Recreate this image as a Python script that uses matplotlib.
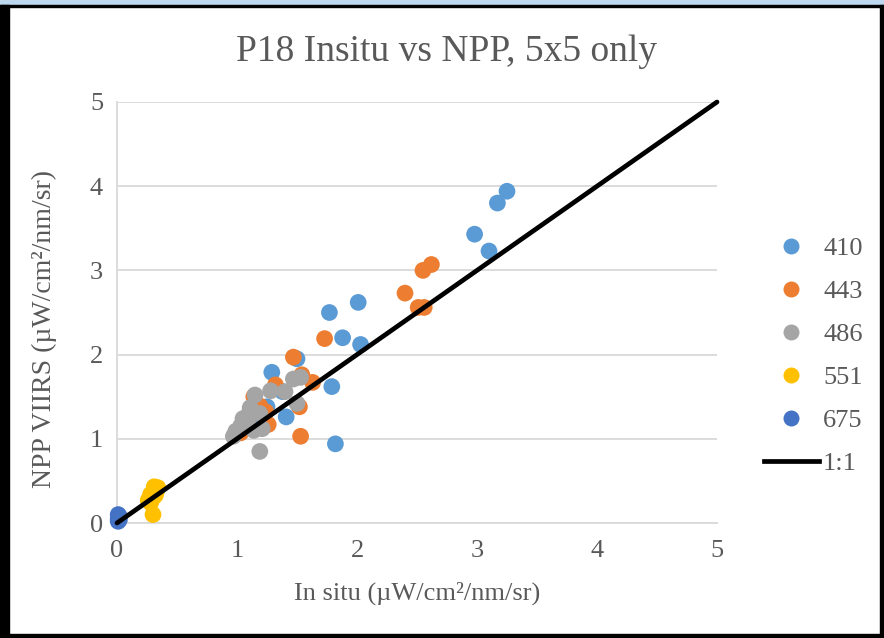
import matplotlib.pyplot as plt
from matplotlib.patches import Rectangle
from matplotlib.lines import Line2D

# in situ vs NPP VIIRS radiance, one series per band (nm)
x_410 = [3.25, 3.17, 2.98, 3.10, 1.77, 2.01, 1.88, 2.03, 1.79, 1.82, 1.29, 1.50, 1.41, 1.38, 1.25, 1.15]
y_410 = [3.94, 3.80, 3.43, 3.23, 2.50, 2.62, 2.20, 2.12, 1.62, 0.94, 1.79, 1.95, 1.26, 1.56, 1.38, 1.20]

x_443 = [2.62, 2.55, 2.40, 2.51, 2.56, 1.73, 1.47, 1.63, 1.53, 1.52, 1.54, 1.32, 1.26, 1.19, 1.14, 1.03, 1.24]
y_443 = [3.07, 3.00, 2.73, 2.56, 2.56, 2.19, 1.97, 1.67, 1.03, 1.38, 1.76, 1.64, 1.17, 1.39, 1.50, 1.07, 1.32]

x_486 = [1.53, 1.47, 1.28, 1.40, 1.50, 1.19, 1.15, 1.11, 1.19, 1.05, 1.03, 0.97, 1.14, 1.21, 1.09, 1.10, 0.99]
y_486 = [1.73, 1.71, 1.57, 1.56, 1.42, 0.85, 1.52, 1.37, 1.30, 1.24, 1.15, 1.03, 1.10, 1.12, 1.18, 1.30, 1.09]

x_551 = [0.31, 0.34, 0.33, 0.28, 0.30, 0.26, 0.28, 0.30, 0.32]
y_551 = [0.43, 0.42, 0.38, 0.34, 0.30, 0.27, 0.24, 0.10, 0.33]

x_675 = [0.01, 0.01, 0.02, 0.01, 0.02]
y_675 = [0.02, 0.05, 0.08, 0.10, 0.04]

bands = ['410', '443', '486', '551', '675']
colors = ['#5b9bd5', '#ed7d31', '#a5a5a5', '#ffc000', '#4472c4']
xs = [x_410, x_443, x_486, x_551, x_675]
ys = [y_410, y_443, y_486, y_551, y_675]
one_to_one = [0, 5]

plt.rcParams['font.family'] = ['Liberation Serif', 'DejaVu Serif']
text_color = '#595959'

fig = plt.figure(figsize=(8.84, 6.38), dpi=100)
ax = fig.add_axes([117 / 884, 115 / 638, 600 / 884, 421 / 638])

for xv, yv, c, b in zip(xs, ys, colors, bands):
    ax.scatter(xv, yv, s=145, color=c, edgecolors='none', label=b, zorder=3, clip_on=False)
ax.plot(one_to_one, one_to_one, color='black', lw=3.4, solid_capstyle='round', zorder=4, clip_on=False)

ax.set_xlim(0, 5)
ax.set_ylim(0, 5)
ax.set_xticks(range(6))
ax.set_yticks(range(6))
ax.tick_params(length=0, labelsize=19, labelcolor=text_color)
ax.tick_params(axis='x', pad=12)
ax.tick_params(axis='y', pad=10)
ax.grid(axis='y', color='#d9d9d9', lw=1.3, zorder=0)
ax.set_axisbelow(True)
for s in ['top', 'right']:
    ax.spines[s].set_visible(False)
for s in ['left', 'bottom']:
    ax.spines[s].set_color('#d9d9d9')
    ax.spines[s].set_linewidth(1.3)

ax.set_xlabel('In situ (\u00b5W/cm\u00b2/nm/sr)', fontsize=19, color=text_color, labelpad=14)
ax.set_ylabel('NPP VIIRS (\u00b5W/cm\u00b2/nm/sr)', fontsize=20, color=text_color)
ax.yaxis.set_label_coords(-0.1, 0.46)
fig.text(446 / 884, 1 - 52 / 638, 'P18 Insitu vs NPP, 5x5 only', ha='center', va='center',
         fontsize=27, color=text_color)

handles = [Line2D([], [], ls='none', marker='o', ms=11.5, color=c, markeredgewidth=0) for c in colors]
handles.append(Line2D([], [], color='black', lw=3.4))
fig.legend(handles, bands + ['1:1'], loc='center left', bbox_to_anchor=(740 / 884, 1 - 356 / 638),
           frameon=False, fontsize=19, labelcolor=text_color, labelspacing=0.74,
           handlelength=2.1, handletextpad=0.15)

# screenshot frame around the chart
fig.patches.append(Rectangle((0, 1 - 5 / 638), 1, 5 / 638, transform=fig.transFigure,
                             color='#bdd7ee', zorder=10))
fig.patches.append(Rectangle((0, 1 - 7 / 638), 1, 2 / 638, transform=fig.transFigure,
                             color='black', zorder=10))
fig.patches.append(Rectangle((0, 0), 9 / 884, 1 - 5 / 638, transform=fig.transFigure,
                             color='black', zorder=10))
fig.patches.append(Rectangle((880 / 884, 0), 3 / 884, 1 - 5 / 638, transform=fig.transFigure,
                             color='black', zorder=10))
fig.patches.append(Rectangle((0, 1 / 638), 1, 3 / 638, transform=fig.transFigure,
                             color='black', zorder=10))

fig.savefig('out.png', dpi=100)
